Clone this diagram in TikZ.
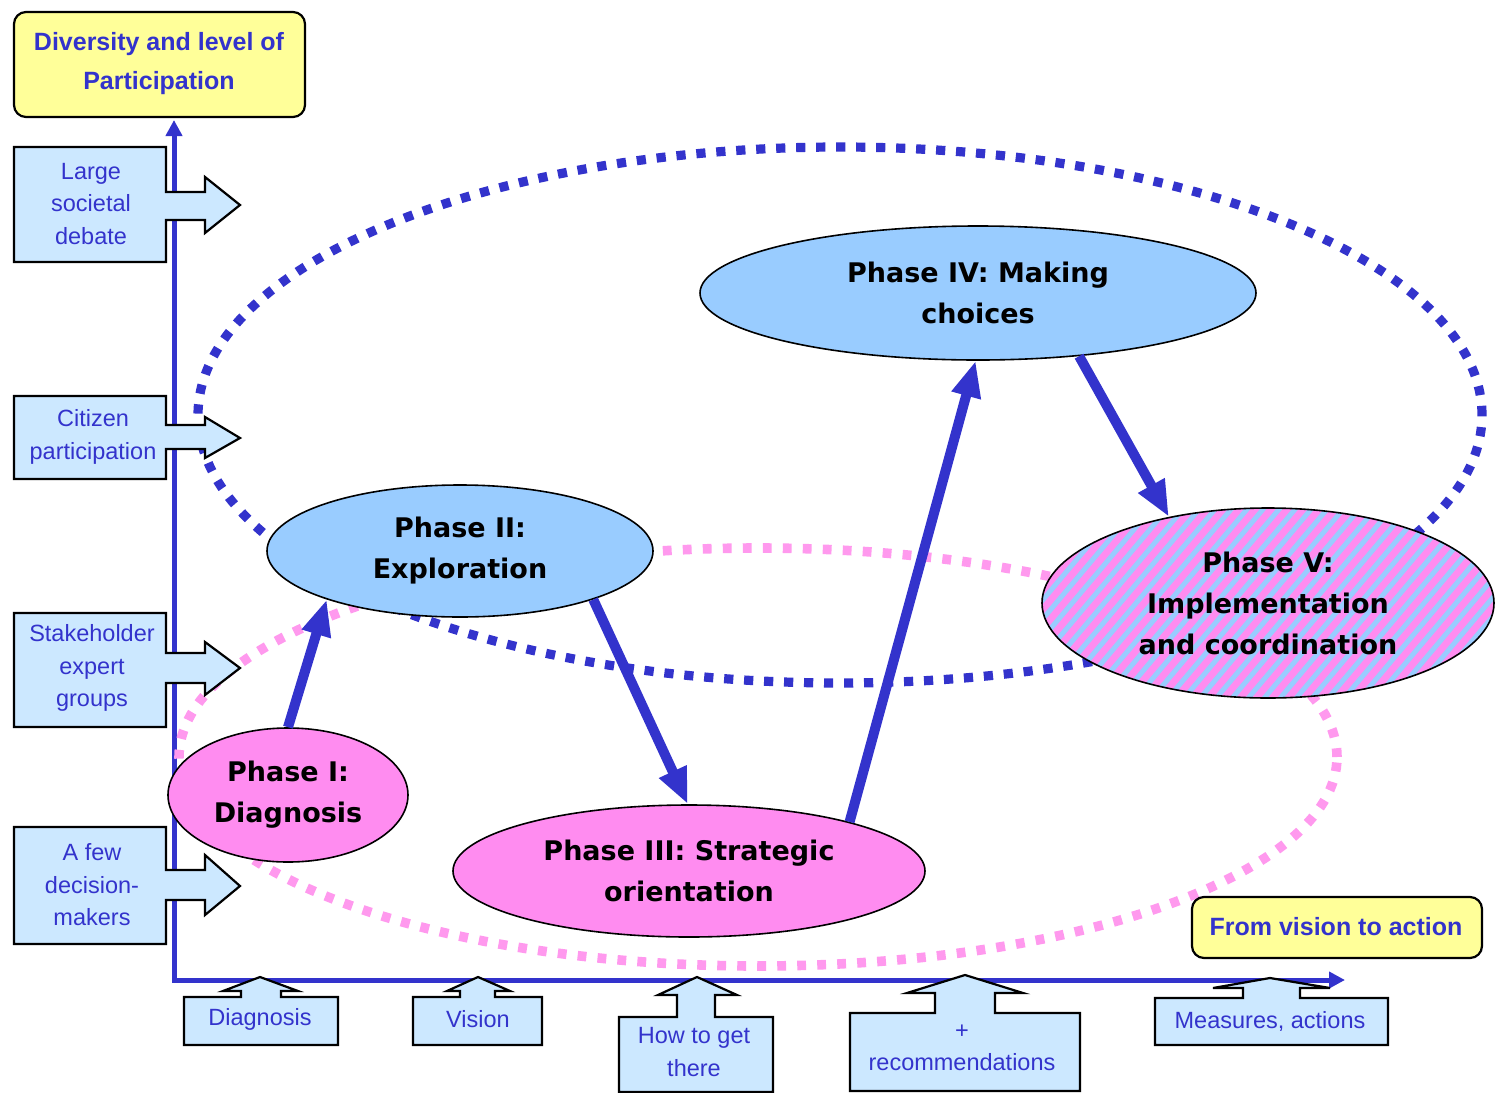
\documentclass[tikz,border=0pt]{standalone}
\usepackage{fontspec}
\setmainfont{Liberation Sans}
\newfontfamily\ellfont{DejaVu Sans}
\usetikzlibrary{arrows.meta,shapes.geometric}
\definecolor{axisblue}{HTML}{3333CC}
\definecolor{boxblue}{HTML}{CCE8FF}
\definecolor{phaseblue}{HTML}{99CCFF}
\definecolor{phasepink}{HTML}{FF8CF0}
\definecolor{dotpink}{HTML}{FF99EE}
\definecolor{titleyellow}{HTML}{FFFF99}
\begin{document}
\begin{tikzpicture}[x=0.5pt,y=-0.5pt,
  axis/.style={draw=axisblue, line width=2.5pt, -{Triangle[length=8pt,width=8pt]}},
  bluedots/.style={draw=axisblue, line width=4.6pt, dash pattern=on 4.6pt off 5.4pt},
  pinkdots/.style={draw=dotpink, line width=4.8pt, dash pattern=on 4.4pt off 5.6pt},
  phase/.style={ellipse, draw=black, line width=0.8pt, inner sep=0pt, align=center,
    font=\ellfont\bfseries\fontsize{13.5}{20.5}\selectfont},
  bluephase/.style={phase, fill=phaseblue},
  pinkphase/.style={phase, fill=phasepink},
  flow/.style={draw=axisblue, line width=5pt, -{Triangle[length=18pt,width=14pt]}},
  callout/.style={draw=black, line width=1.1pt, fill=boxblue, line join=miter},
  calltext/.style={text=axisblue, align=center, inner sep=0pt, font=\fontsize{11.75}{16.25}\selectfont},
  titlebox/.style={draw=black, line width=1.1pt, fill=titleyellow, rounded corners=6pt},
  titletext/.style={text=axisblue, align=center, inner sep=0pt, font=\bfseries\fontsize{12.5}{19.5}\selectfont},
]
\useasboundingbox (0,0) rectangle (1495,1093);
\fill[white] (0,0) rectangle (1495,1093);

% axes
\coordinate (origin) at (174,982);
\coordinate (xorigin) at (172,980);
\coordinate (ytop) at (174,120);
\coordinate (xend) at (1345,980);
\draw[axis] (origin) -- (ytop);
\draw[axis] (xorigin) -- (xend);

% dotted ellipses
\draw[bluedots] (840,415) ellipse [x radius=321pt, y radius=134pt];
\draw[pinkdots] (758,757) ellipse [x radius=289.5pt, y radius=104.5pt];

% phase ellipses
\node[pinkphase, minimum width=120pt, minimum height=67pt] (p1) at (288,795) {Phase I:\\Diagnosis};
\node[bluephase, minimum width=193pt, minimum height=66pt] (p2) at (460,551) {Phase II:\\Exploration};
\node[pinkphase, minimum width=236pt, minimum height=66pt] (p3) at (689,871) {Phase III: Strategic\\orientation};
\node[bluephase, minimum width=278pt, minimum height=67pt] (p4) at (978,293) {Phase IV: Making\\choices};
\begin{scope}
  \clip (1268,603) ellipse [x radius=113pt, y radius=47.5pt];
  \fill[phasepink] (1030,500) rectangle (1510,710);
  \foreach \k in {0,...,45} \draw[phaseblue, line width=2.5pt] ({850+\k*16},715) -- ++(185,-220);
\end{scope}
\node[phase, minimum width=226pt, minimum height=95pt] (p5) at (1268,603) {Phase V:\\Implementation\\and coordination};

% flow arrows
\draw[flow] (p1.90) -- (p2.200);
\draw[flow] (p2.340) -- (p3.91);
\draw[flow] (p3.17) -- (p4.268);
\draw[flow] (p4.328) -- (p5.139);

% left callouts
\draw[callout] (14,147) -- (166,147) -- (166,192) -- (205,192) -- (205,177) -- (240,205) -- (205,233) -- (205,220) -- (166,220) -- (166,262) -- (14,262) -- cycle;
\node[calltext] (l1) at (91,204) {Large\\societal\\debate};
\draw[callout] (14,396) -- (166,396) -- (166,425) -- (205,425) -- (205,417) -- (240,438) -- (205,458) -- (205,449) -- (166,449) -- (166,479) -- (14,479) -- cycle;
\node[calltext] (l2) at (93,437) {Citizen\\participation};
\draw[callout] (14,613) -- (166,613) -- (166,653) -- (205,653) -- (205,642) -- (240,668) -- (205,695) -- (205,683) -- (166,683) -- (166,727) -- (14,727) -- cycle;
\node[calltext] (l3) at (92,668) {Stakeholder\\expert\\groups};
\draw[callout] (14,827) -- (166,827) -- (166,870) -- (205,870) -- (205,855) -- (240,886) -- (205,915) -- (205,900) -- (166,900) -- (166,944) -- (14,944) -- cycle;
\node[calltext] (l4) at (92,885) {A few\\decision-\\makers};

% bottom callouts
\draw[callout] (184,1045) -- (184,997) -- (241,997) -- (241,991) -- (223,991) -- (260,977) -- (298,991) -- (281,991) -- (281,997) -- (338,997) -- (338,1045) -- cycle;
\node[calltext] (b1) at (260,1019) {Diagnosis};
\draw[callout] (413,1045) -- (413,997) -- (460,997) -- (460,991) -- (447,991) -- (478,977) -- (510,991) -- (495,991) -- (495,997) -- (542,997) -- (542,1045) -- cycle;
\node[calltext] (b2) at (478,1019) {Vision};
\draw[callout] (619,1092) -- (619,1017) -- (677,1017) -- (677,995) -- (658,995) -- (697,977) -- (737,995) -- (715,995) -- (715,1017) -- (773,1017) -- (773,1092) -- cycle;
\node[calltext] (b3) at (694,1052) {How to get\\there};
\draw[callout] (850,1091) -- (850,1013) -- (935,1013) -- (935,993) -- (907,993) -- (965,975) -- (1023,993) -- (995,993) -- (995,1013) -- (1080,1013) -- (1080,1091) -- cycle;
\node[calltext] (b4) at (962,1048) {+\\recommendations};
\draw[callout] (1155,1045) -- (1155,998) -- (1243,998) -- (1243,988) -- (1213,988) -- (1270,978) -- (1330,988) -- (1300,988) -- (1300,998) -- (1388,998) -- (1388,1045) -- cycle;
\node[calltext] (b5) at (1270,1021) {Measures, actions};

% title boxes
\draw[titlebox] (14,12) rectangle (305,117);
\node[titletext] (title) at (159,64) {Diversity and level of\\Participation};
\draw[titlebox] (1192,897) rectangle (1482,958);
\node[titletext] (fva) at (1336,927) {From vision to action};
\end{tikzpicture}
\end{document}
